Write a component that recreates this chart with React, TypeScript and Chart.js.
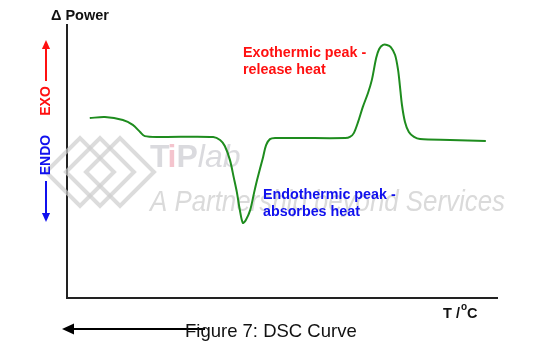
import React, { useEffect, useRef } from "react";
import { Chart, registerables } from "chart.js";

Chart.register(...registerables);

// Temperature (arbitrary units across the x axis)
const temperature = [
  5.3, 8.8, 13.0, 15.3, 17.0, 18.1, 21.6, 34.0, 35.6, 36.7, 37.9, 38.8, 39.5, 40.2,
  40.9, 41.6, 42.6, 43.5, 44.2, 45.6, 46.3, 47.2, 48.4, 54.2, 64.7, 65.8, 66.7, 67.7,
  68.8, 70.0, 70.9, 71.9, 72.6, 73.5, 74.4, 75.3, 76.3, 77.0, 77.4, 77.9, 78.6, 79.5,
  80.7, 82.1, 89.1, 97.4,
];
// Δ Power (arbitrary units)
const power = [
  65.9, 66.3, 65.2, 63.4, 60.8, 59.3, 59.0, 59.0, 57.9, 55.7, 50.5, 44.0, 38.8, 32.2,
  27.5, 28.6, 32.2, 38.5, 43.2, 51.6, 56.0, 58.2, 58.6, 58.6, 58.6, 59.0, 60.4, 64.5,
  70.0, 75.1, 79.9, 87.9, 91.2, 92.7, 92.7, 91.9, 89.0, 83.5, 78.0, 70.7, 64.5, 60.8,
  59.0, 58.2, 57.9, 57.5,
];

const yAxisTitle = "Δ Power";
const xAxisTitle = ["T /", "o", "C"];
const exoLabel = "EXO";
const endoLabel = "ENDO";
const exoNote = ["Exothermic peak -", "release heat"];
const endoNote = ["Endothermic peak -", "absorbes heat"];
const caption = "Figure 7: DSC Curve";
const watermarkTop = ["Ti", "P", "lab"];
const watermarkBottom = "A Partnership beyond Services";

const FONT = '"Liberation Sans", Arial, sans-serif';

function arrow(ctx: CanvasRenderingContext2D, x1: number, y1: number, x2: number, y2: number, color: string, w: number, head: number) {
  const ang = Math.atan2(y2 - y1, x2 - x1);
  ctx.save();
  ctx.strokeStyle = color;
  ctx.fillStyle = color;
  ctx.lineWidth = w;
  ctx.beginPath();
  ctx.moveTo(x1, y1);
  ctx.lineTo(x2 - Math.cos(ang) * head * 0.6, y2 - Math.sin(ang) * head * 0.6);
  ctx.stroke();
  ctx.beginPath();
  ctx.moveTo(x2, y2);
  ctx.lineTo(x2 - head * Math.cos(ang) + (head * 0.45) * Math.sin(ang), y2 - head * Math.sin(ang) - (head * 0.45) * Math.cos(ang));
  ctx.lineTo(x2 - head * Math.cos(ang) - (head * 0.45) * Math.sin(ang), y2 - head * Math.sin(ang) + (head * 0.45) * Math.cos(ang));
  ctx.closePath();
  ctx.fill();
  ctx.restore();
}

const annotate = {
  id: "annotate",
  beforeDatasetsDraw(chart: any) {
    const ctx: CanvasRenderingContext2D = chart.ctx;
    ctx.save();
    // watermark chevrons
    ctx.strokeStyle = "rgba(205,205,205,0.7)";
    ctx.lineWidth = 4;
    const centers = [
      [80, 172],
      [100, 172],
      [120, 172],
    ];
    for (const [cx, cy] of centers) {
      ctx.beginPath();
      ctx.moveTo(cx - 34, cy);
      ctx.lineTo(cx, cy - 34);
      ctx.lineTo(cx + 34, cy);
      ctx.lineTo(cx, cy + 34);
      ctx.closePath();
      ctx.stroke();
    }
    // watermark text
    ctx.textBaseline = "alphabetic";
    ctx.textAlign = "left";
    ctx.font = `bold 32px ${FONT}`;
    let x = 150;
    ctx.fillStyle = "rgba(212,212,216,0.85)";
    ctx.fillText("T", x, 167);
    x += ctx.measureText("T").width - 2;
    ctx.fillStyle = "rgba(242,186,196,0.85)";
    ctx.fillText("i", x, 167);
    x += ctx.measureText("i").width;
    ctx.fillStyle = "rgba(212,212,216,0.85)";
    ctx.fillText("P", x, 167);
    x += ctx.measureText("P").width;
    ctx.font = `italic 32px ${FONT}`;
    ctx.fillText(watermarkTop[2], x, 167);
    ctx.font = `italic 30px ${FONT}`;
    const w = ctx.measureText(watermarkBottom).width;
    ctx.save();
    ctx.translate(150, 211);
    ctx.scale(355 / w, 1);
    ctx.fillStyle = "rgba(212,212,212,0.85)";
    ctx.fillText(watermarkBottom, 0, 0);
    ctx.restore();
    ctx.restore();
  },
  afterDraw(chart: any) {
    const ctx: CanvasRenderingContext2D = chart.ctx;
    ctx.save();
    ctx.textBaseline = "middle";
    // y axis title
    ctx.fillStyle = "#111";
    ctx.textAlign = "left";
    ctx.font = `bold 14.5px ${FONT}`;
    ctx.fillText(yAxisTitle, 51, 16);
    // x axis title
    ctx.font = `bold 14.5px ${FONT}`;
    let x = 443;
    ctx.fillText(xAxisTitle[0], x, 314);
    x += ctx.measureText(xAxisTitle[0]).width + 1;
    ctx.font = `bold 10px ${FONT}`;
    ctx.fillText(xAxisTitle[1], x, 307);
    x += ctx.measureText(xAxisTitle[1]).width;
    ctx.font = `bold 14.5px ${FONT}`;
    ctx.fillText(xAxisTitle[2], x, 314);

    // EXO / ENDO
    ctx.font = `bold 14px ${FONT}`;
    ctx.textAlign = "center";
    ctx.save();
    ctx.translate(46, 101);
    ctx.rotate(-Math.PI / 2);
    ctx.fillStyle = "#ff1010";
    ctx.fillText(exoLabel, 0, 0);
    ctx.restore();
    arrow(ctx, 46, 81, 46, 40, "#ff1010", 2, 9);
    ctx.save();
    ctx.translate(46, 155);
    ctx.rotate(-Math.PI / 2);
    ctx.fillStyle = "#1010ee";
    ctx.fillText(endoLabel, 0, 0);
    ctx.restore();
    arrow(ctx, 46, 181, 46, 222, "#1010ee", 2, 9);

    // notes
    ctx.textAlign = "left";
    ctx.font = `bold 14.3px ${FONT}`;
    ctx.fillStyle = "#ff1010";
    ctx.fillText(exoNote[0], 243, 53);
    ctx.fillText(exoNote[1], 243, 70);
    ctx.fillStyle = "#1010ee";
    ctx.fillText(endoNote[0], 263, 195);
    ctx.fillText(endoNote[1], 263, 212);

    // caption + arrow
    arrow(ctx, 205, 329, 62, 329, "#000", 2, 12);
    ctx.fillStyle = "#111";
    ctx.font = `18.5px ${FONT}`;
    ctx.fillText(caption, 185, 332);
    ctx.restore();
  },
};

export default function App() {
  const ref = useRef<HTMLCanvasElement | null>(null);
  useEffect(() => {
    if (!ref.current) return;
    const chart = new Chart(ref.current, {
      type: "line",
      data: {
        datasets: [
          {
            data: temperature.map((t, i) => ({ x: t, y: power[i] })),
            borderColor: "#1e8c1e",
            borderWidth: 2,
            pointRadius: 0,
            tension: 0.3,
            fill: false,
          },
        ],
      },
      options: {
        responsive: false,
        animation: false,
        layout: { padding: { left: 67, right: 63, top: 25, bottom: 57 } },
        plugins: { legend: { display: false }, tooltip: { enabled: false } },
        scales: {
          x: {
            type: "linear",
            min: 0,
            max: 100,
            grid: { display: false, drawTicks: false },
            ticks: { display: false },
            border: { display: true, color: "#222", width: 2 },
          },
          y: {
            type: "linear",
            min: 0,
            max: 100,
            grid: { display: false, drawTicks: false },
            ticks: { display: false },
            border: { display: true, color: "#222", width: 2 },
          },
        },
      },
      plugins: [annotate],
    });
    return () => chart.destroy();
  }, []);
  return (
    <div style={{ position: "absolute", left: 0, top: 0, width: 560, height: 355, background: "#fff" }}>
      <canvas ref={ref} width={560} height={355} style={{ display: "block" }} />
    </div>
  );
}
